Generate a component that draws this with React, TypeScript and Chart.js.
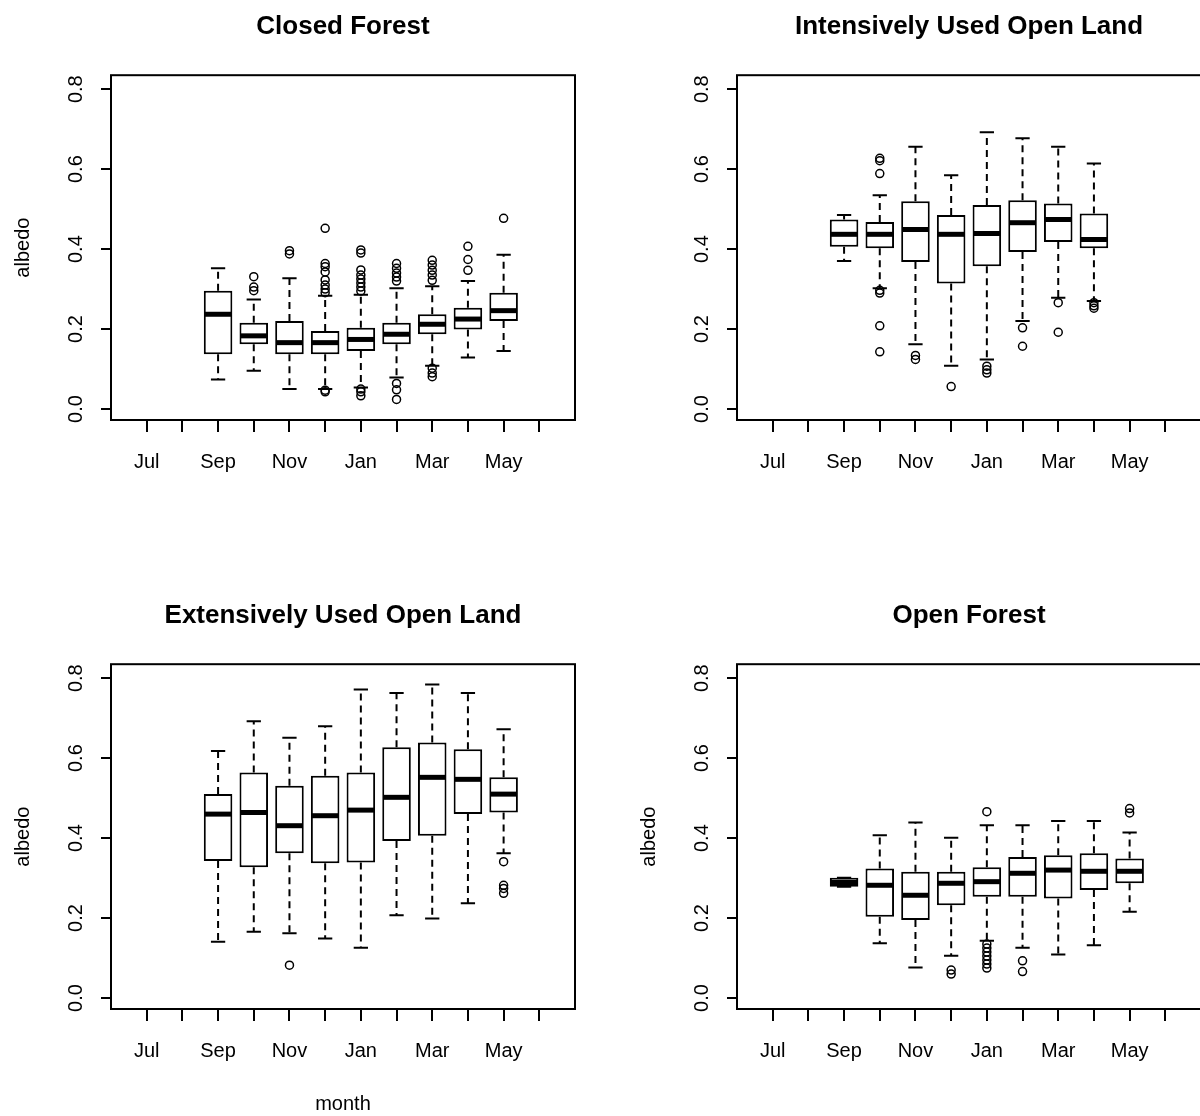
import React, { useEffect, useRef } from 'react';
import { Chart, registerables } from 'chart.js';

Chart.register(...registerables);

const monthLabels = ['Jul', 'Aug', 'Sep', 'Oct', 'Nov', 'Dec', 'Jan', 'Feb', 'Mar', 'Apr', 'May', 'Jun'];
const shownMonthLabels = ['Jul', 'Sep', 'Nov', 'Jan', 'Mar', 'May'];
const yTickValues = [0, 0.2, 0.4, 0.6, 0.8];

// Closed Forest
const cfMonths = ['Sep', 'Oct', 'Nov', 'Dec', 'Jan', 'Feb', 'Mar', 'Apr', 'May'];
const cfLow = [0.074, 0.096, 0.05, 0.05, 0.054, 0.079, 0.108, 0.129, 0.145];
const cfQ1 = [0.137, 0.162, 0.137, 0.137, 0.145, 0.162, 0.187, 0.199, 0.22];
const cfMedian = [0.237, 0.183, 0.166, 0.166, 0.174, 0.187, 0.212, 0.225, 0.246];
const cfQ3 = [0.296, 0.216, 0.22, 0.195, 0.203, 0.216, 0.237, 0.253, 0.291];
const cfHigh = [0.352, 0.274, 0.327, 0.283, 0.286, 0.302, 0.307, 0.32, 0.386];
const cfOutliers = [
  [],
  [0.331, 0.305, 0.296],
  [0.396, 0.388],
  [0.452, 0.364, 0.356, 0.343, 0.323, 0.31, 0.3, 0.291, 0.047, 0.043],
  [0.398, 0.39, 0.348, 0.335, 0.325, 0.315, 0.305, 0.295, 0.05, 0.043, 0.033],
  [0.364, 0.352, 0.34, 0.33, 0.32, 0.064, 0.048, 0.024],
  [0.372, 0.36, 0.347, 0.335, 0.322, 0.102, 0.09, 0.081],
  [0.407, 0.374, 0.347],
  [0.477],
];

// Intensively Used Open Land
const iuMonths = ['Sep', 'Oct', 'Nov', 'Dec', 'Jan', 'Feb', 'Mar', 'Apr'];
const iuLow = [0.37, 0.302, 0.162, 0.108, 0.124, 0.22, 0.278, 0.27];
const iuQ1 = [0.406, 0.402, 0.368, 0.314, 0.357, 0.393, 0.418, 0.402];
const iuMedian = [0.437, 0.437, 0.449, 0.437, 0.439, 0.466, 0.474, 0.424];
const iuQ3 = [0.474, 0.468, 0.52, 0.485, 0.51, 0.522, 0.514, 0.489];
const iuHigh = [0.485, 0.535, 0.656, 0.585, 0.692, 0.677, 0.656, 0.614];
const iuOutliers = [
  [],
  [0.627, 0.621, 0.589, 0.297, 0.29, 0.208, 0.143],
  [0.134, 0.124],
  [0.056],
  [0.107, 0.098, 0.09],
  [0.203, 0.157],
  [0.266, 0.192],
  [0.266, 0.258, 0.252],
];

// Extensively Used Open Land
const euMonths = ['Sep', 'Oct', 'Nov', 'Dec', 'Jan', 'Feb', 'Mar', 'Apr', 'May'];
const euLow = [0.141, 0.166, 0.162, 0.149, 0.126, 0.207, 0.199, 0.237, 0.362];
const euQ1 = [0.343, 0.327, 0.362, 0.337, 0.339, 0.393, 0.406, 0.46, 0.464];
const euMedian = [0.46, 0.464, 0.431, 0.456, 0.47, 0.502, 0.552, 0.547, 0.51];
const euQ3 = [0.51, 0.564, 0.531, 0.556, 0.564, 0.627, 0.639, 0.622, 0.552];
const euHigh = [0.618, 0.692, 0.651, 0.68, 0.772, 0.763, 0.784, 0.763, 0.672];
const euOutliers = [[], [], [0.082], [], [], [], [], [], [0.341, 0.282, 0.274, 0.262]];

// Open Forest
const ofMonths = ['Sep', 'Oct', 'Nov', 'Dec', 'Jan', 'Feb', 'Mar', 'Apr', 'May'];
const ofLow = [0.278, 0.137, 0.076, 0.106, 0.143, 0.126, 0.109, 0.132, 0.216];
const ofQ1 = [0.278, 0.203, 0.195, 0.232, 0.253, 0.253, 0.249, 0.27, 0.287];
const ofMedian = [0.289, 0.282, 0.257, 0.287, 0.291, 0.312, 0.32, 0.317, 0.317];
const ofQ3 = [0.301, 0.324, 0.316, 0.316, 0.327, 0.353, 0.357, 0.362, 0.349];
const ofHigh = [0.301, 0.407, 0.439, 0.401, 0.432, 0.432, 0.443, 0.443, 0.414];
const ofOutliers = [
  [],
  [],
  [],
  [0.07, 0.06],
  [0.466, 0.135, 0.125, 0.115, 0.105, 0.095, 0.085, 0.075],
  [0.093, 0.066],
  [],
  [],
  [0.474, 0.463],
];

type Panel = {
  title: string;
  months: string[];
  low: number[];
  q1: number[];
  median: number[];
  q3: number[];
  high: number[];
  outliers: number[][];
  left: number;
  top: number;
  showYTitle: boolean;
  showXTitle: boolean;
};

const PANEL_W = 600;
const PANEL_H = 527;
const FONT = '"Liberation Sans", Arial, sans-serif';

const panels: Panel[] = [
  { title: 'Closed Forest', months: cfMonths, low: cfLow, q1: cfQ1, median: cfMedian, q3: cfQ3, high: cfHigh, outliers: cfOutliers, left: 0, top: 0, showYTitle: true, showXTitle: false },
  { title: 'Intensively Used Open Land', months: iuMonths, low: iuLow, q1: iuQ1, median: iuMedian, q3: iuQ3, high: iuHigh, outliers: iuOutliers, left: 626, top: 0, showYTitle: false, showXTitle: false },
  { title: 'Extensively Used Open Land', months: euMonths, low: euLow, q1: euQ1, median: euMedian, q3: euQ3, high: euHigh, outliers: euOutliers, left: 0, top: 589, showYTitle: true, showXTitle: true },
  { title: 'Open Forest', months: ofMonths, low: ofLow, q1: ofQ1, median: ofMedian, q3: ofQ3, high: ofHigh, outliers: ofOutliers, left: 626, top: 589, showYTitle: true, showXTitle: false },
];

const monthPos = (m: string) => monthLabels.indexOf(m) + 1;

function BoxPanel({ panel }: { panel: Panel }) {
  const ref = useRef<HTMLCanvasElement | null>(null);
  useEffect(() => {
    const canvas = ref.current;
    if (!canvas) return;
    const xs = panel.months.map(monthPos);

    const boxPlugin = {
      id: 'rbox',
      beforeDatasetsDraw(chart: any) {
        const ctx = chart.ctx;
        const x = chart.scales.x;
        const y = chart.scales.y;
        const meta = chart.getDatasetMeta(0);
        ctx.save();
        ctx.strokeStyle = '#000';
        ctx.lineWidth = 2;
        xs.forEach((mx, i) => {
          const px = x.getPixelForValue(mx);
          const w = meta.data[i] ? meta.data[i].width : 28;
          const cap = w / 4;
          ctx.setLineDash([7, 5]);
          ctx.beginPath();
          ctx.moveTo(px, y.getPixelForValue(panel.q3[i]));
          ctx.lineTo(px, y.getPixelForValue(panel.high[i]));
          ctx.moveTo(px, y.getPixelForValue(panel.q1[i]));
          ctx.lineTo(px, y.getPixelForValue(panel.low[i]));
          ctx.stroke();
          ctx.setLineDash([]);
          ctx.beginPath();
          const hy = y.getPixelForValue(panel.high[i]);
          const ly = y.getPixelForValue(panel.low[i]);
          ctx.moveTo(px - cap, hy);
          ctx.lineTo(px + cap, hy);
          ctx.moveTo(px - cap, ly);
          ctx.lineTo(px + cap, ly);
          ctx.stroke();
        });
        ctx.restore();
      },
      afterDatasetsDraw(chart: any) {
        const ctx = chart.ctx;
        const x = chart.scales.x;
        const y = chart.scales.y;
        const meta = chart.getDatasetMeta(0);
        ctx.save();
        ctx.strokeStyle = '#000';
        ctx.lineWidth = 5;
        xs.forEach((mx, i) => {
          const px = x.getPixelForValue(mx);
          const w = meta.data[i] ? meta.data[i].width : 28;
          const my = y.getPixelForValue(panel.median[i]);
          ctx.beginPath();
          ctx.moveTo(px - w / 2 + 1, my);
          ctx.lineTo(px + w / 2 - 1, my);
          ctx.stroke();
        });
        ctx.restore();
      },
      afterDraw(chart: any) {
        const ctx = chart.ctx;
        const a = chart.chartArea;
        const y = chart.scales.y;
        ctx.save();
        ctx.strokeStyle = '#000';
        ctx.lineWidth = 2;
        ctx.strokeRect(a.left, a.top, a.right - a.left, a.bottom - a.top);
        ctx.fillStyle = '#000';
        ctx.font = `20px ${FONT}`;
        ctx.textAlign = 'center';
        ctx.textBaseline = 'alphabetic';
        y.ticks.forEach((t: any) => {
          const py = y.getPixelForValue(t.value);
          ctx.save();
          ctx.translate(82, py);
          ctx.rotate(-Math.PI / 2);
          ctx.fillText(t.value.toFixed(1), 0, 0);
          ctx.restore();
        });
        ctx.restore();
      },
    };

    const outlierPoints: { x: number; y: number }[] = [];
    panel.outliers.forEach((vals, i) => {
      vals.forEach((v) => outlierPoints.push({ x: xs[i], y: v }));
    });

    const chart = new Chart(canvas, {
      type: 'bar',
      data: {
        datasets: [
          {
            type: 'bar',
            data: xs.map((mx, i) => ({ x: mx, y: [panel.q1[i], panel.q3[i]] })) as any,
            backgroundColor: '#ffffff',
            borderColor: '#000000',
            borderWidth: 2,
            borderSkipped: false,
            categoryPercentage: 1,
            barPercentage: 0.8,
          } as any,
          {
            type: 'scatter',
            data: outlierPoints,
            pointStyle: 'circle',
            pointRadius: 4,
            pointBorderWidth: 1.5,
            pointBorderColor: '#000000',
            pointBackgroundColor: 'rgba(0,0,0,0)',
            showLine: false,
          } as any,
        ],
      },
      options: {
        responsive: false,
        animation: false,
        devicePixelRatio: 1,
        layout: { padding: { left: 0, right: 25, top: 0, bottom: 0 } },
        plugins: {
          legend: { display: false },
          tooltip: { enabled: false },
          title: {
            display: true,
            fullSize: false,
            text: panel.title,
            color: '#000',
            font: { family: FONT, size: 26, weight: 'bold' },
            padding: { top: 11, bottom: 33 },
          },
        },
        scales: {
          x: {
            type: 'linear',
            min: 0,
            max: 13,
            offset: false,
            afterBuildTicks: (scale: any) => {
              scale.ticks = monthLabels.map((_, i) => ({ value: i + 1 }));
            },
            afterFit: (scale: any) => {
              scale.height = 107;
            },
            ticks: {
              stepSize: 1,
              autoSkip: false,
              maxRotation: 0,
              minRotation: 0,
              padding: 18,
              color: '#000',
              font: { family: FONT, size: 20 },
              callback: (v: any) => {
                const lab = monthLabels[Math.round(v) - 1];
                return shownMonthLabels.includes(lab) ? lab : '';
              },
            },
            grid: {
              offset: false,
              drawOnChartArea: false,
              drawTicks: true,
              tickLength: 12,
              color: '#000',
              lineWidth: 2,
            },
            border: { display: false },
            title: {
              display: panel.showXTitle,
              text: 'month',
              color: '#000',
              font: { family: FONT, size: 20 },
              padding: { top: 0, bottom: 0 },
            },
          },
          y: {
            type: 'linear',
            min: -0.0275,
            max: 0.835,
            afterBuildTicks: (scale: any) => {
              scale.ticks = yTickValues.map((v) => ({ value: v }));
            },
            afterFit: (scale: any) => {
              scale.width = 111;
            },
            ticks: { display: false },
            grid: {
              drawOnChartArea: false,
              drawTicks: true,
              tickLength: 10,
              color: '#000',
              lineWidth: 2,
            },
            border: { display: false },
            title: {
              display: panel.showYTitle,
              text: 'albedo',
              color: '#000',
              font: { family: FONT, size: 20 },
              padding: { top: 11, bottom: 0 },
            },
          },
        },
      } as any,
      plugins: [boxPlugin],
    });
    return () => chart.destroy();
  }, [panel]);

  return (
    <canvas
      ref={ref}
      width={PANEL_W}
      height={PANEL_H}
      style={{ position: 'absolute', left: panel.left, top: panel.top, width: PANEL_W, height: PANEL_H }}
    />
  );
}

export default function App() {
  return (
    <div
      style={{
        position: 'absolute',
        left: 0,
        top: 0,
        width: 1200,
        height: 1116,
        overflow: 'hidden',
        background: '#ffffff',
      }}
    >
      {panels.map((p) => (
        <BoxPanel key={p.title} panel={p} />
      ))}
    </div>
  );
}
